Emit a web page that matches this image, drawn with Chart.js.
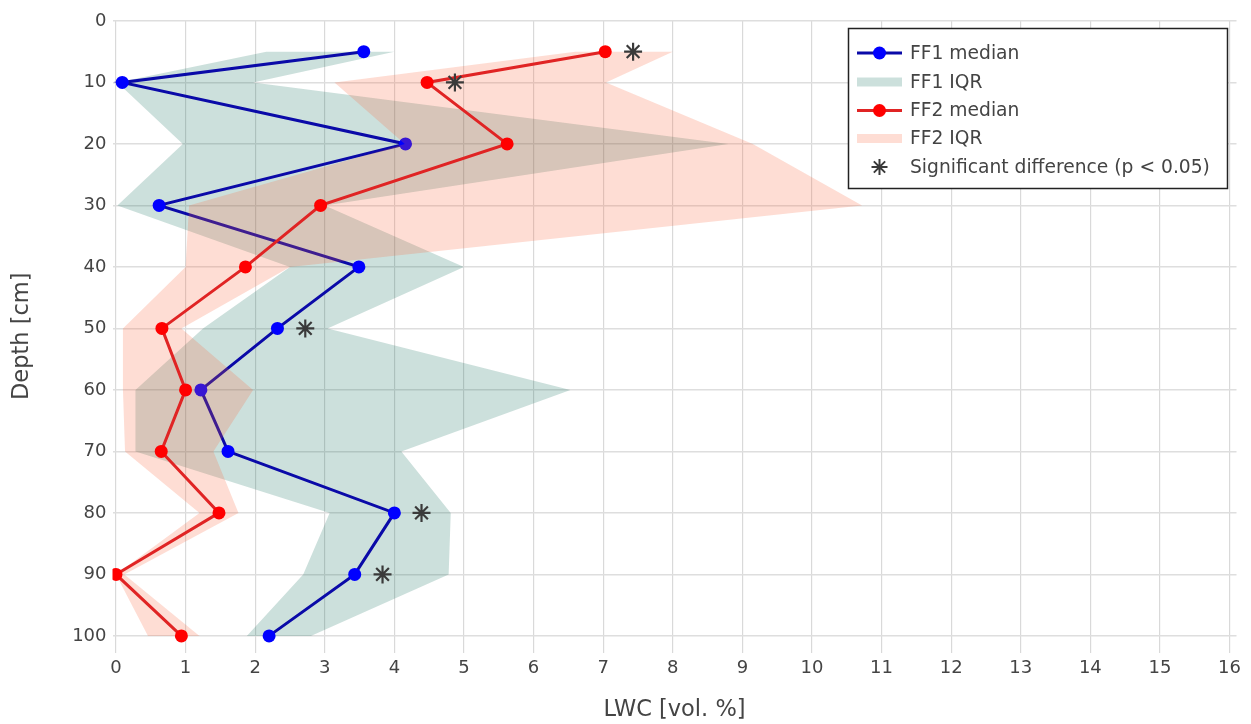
<!DOCTYPE html>
<html>
<head>
<meta charset="utf-8">
<script src="https://cdn.jsdelivr.net/npm/chart.js@4.4.1/dist/chart.umd.min.js"></script>
<style>
  html, body { margin: 0; padding: 0; background: #ffffff; }
  #wrap { width: 1251px; height: 724px; position: relative; }
  canvas { display: block; }
</style>
</head>
<body>
<div id="wrap"><canvas id="c" width="1251" height="724"></canvas></div>
<script>
// ---- data ----
const depths     = [5, 10, 20, 30, 40, 50, 60, 70, 80, 90, 100];
const ff1Median  = [3.56, 0.09, 4.16, 0.62, 3.49, 2.32, 1.22, 1.61, 4.00, 3.43, 2.20];
const ff1Q25     = [2.16, 0.02, 0.96, 0.02, 2.50, 1.25, 0.28, 0.28, 3.07, 2.69, 1.88];
const ff1Q75     = [4.00, 1.97, 8.80, 3.00, 5.00, 3.04, 6.53, 4.10, 4.81, 4.78, 2.80];
const ff2Median  = [7.03, 4.47, 5.62, 2.94, 1.86, 0.66, 1.00, 0.65, 1.48, 0.00, 0.94];
const ff2Q25     = [6.60, 3.14, 4.15, 1.05, 1.00, 0.10, 0.10, 0.13, 1.20, 0.00, 0.46];
const ff2Q75     = [8.00, 7.04, 9.15, 10.72, 2.50, 0.94, 1.97, 1.40, 1.76, 0.12, 1.20];
const sigDepths  = [5, 10, 50, 80, 90];
const sigX       = [7.43, 4.87, 2.72, 4.39, 3.83];
const xTicks     = [0,1,2,3,4,5,6,7,8,9,10,11,12,13,14,15,16];
const yTicks     = [0,10,20,30,40,50,60,70,80,90,100];
const legendLabels = ['FF1 median', 'FF1 IQR', 'FF2 median', 'FF2 IQR', 'Significant difference (p < 0.05)'];

// ---- styles ----
const FONT = "'DejaVu Sans', Verdana, sans-serif";
const BLUE_LINE = '#0a0aa8';
const BLUE_PT = '#0000ff';
const RED_LINE = '#e02424';
const RED_PT = '#ff0000';
const GREEN_FILL = 'rgba(0,100,80,0.2)';
const PINK_FILL = 'rgba(250,100,60,0.22)';
const STAR = '#3a3a3a';

function pts(xs, ys) { return xs.map((v, i) => ({x: v, y: ys[i]})); }
function band(lo, hi) {
  const up = hi.map((v, i) => ({x: v, y: depths[i]}));
  const down = lo.map((v, i) => ({x: v, y: depths[i]})).reverse();
  return up.concat(down);
}

const legendPlugin = {
  id: 'boxLegend',
  afterDraw(chart) {
    const ctx = chart.ctx;
    const bx = 848.5, by = 28.5, bw = 379, bh = 160;
    ctx.save();
    ctx.fillStyle = '#ffffff';
    ctx.fillRect(bx, by, bw, bh);
    ctx.lineWidth = 1.5;
    ctx.strokeStyle = '#222222';
    ctx.strokeRect(bx, by, bw, bh);
    const rows = [53, 82, 110.5, 138.5, 167];
    const x0 = 857, x1 = 902, xc = 879.5;
    ctx.font = '18.7px ' + FONT;
    ctx.textBaseline = 'middle';
    ctx.textAlign = 'left';
    rows.forEach((y, i) => {
      if (i === 0 || i === 2) {
        ctx.strokeStyle = i === 0 ? BLUE_LINE : RED_LINE;
        ctx.lineWidth = 3;
        ctx.beginPath(); ctx.moveTo(x0, y); ctx.lineTo(x1, y); ctx.stroke();
        ctx.fillStyle = i === 0 ? BLUE_PT : RED_PT;
        ctx.beginPath(); ctx.arc(xc, y, 6.5, 0, Math.PI * 2); ctx.fill();
      } else if (i === 1 || i === 3) {
        ctx.fillStyle = i === 1 ? GREEN_FILL : PINK_FILL;
        ctx.fillRect(x0, y - 4.5, x1 - x0, 9);
      } else {
        ctx.strokeStyle = STAR; ctx.lineWidth = 2;
        const r = 8;
        ctx.beginPath();
        for (let k = 0; k < 4; k++) {
          const a = k * Math.PI / 4;
          ctx.moveTo(xc - r * Math.cos(a), y - r * Math.sin(a));
          ctx.lineTo(xc + r * Math.cos(a), y + r * Math.sin(a));
        }
        ctx.stroke();
      }
      ctx.fillStyle = '#444444';
      ctx.fillText(legendLabels[i], 910, y + 1);
    });
    ctx.restore();
  }
};

const chart = new Chart(document.getElementById('c'), {
  type: 'scatter',
  data: {
    datasets: [
      { label: 'FF1 IQR', data: band(ff1Q25, ff1Q75), showLine: true, fill: 'shape',
        backgroundColor: GREEN_FILL, borderWidth: 0, borderColor: 'rgba(0,0,0,0)', pointRadius: 0, order: 5, tension: 0 },
      { label: 'FF1 median', data: pts(ff1Median, depths), showLine: true, borderColor: BLUE_LINE, borderWidth: 3,
        pointBackgroundColor: BLUE_PT, pointBorderColor: BLUE_PT, pointRadius: 6.5, pointBorderWidth: 0, order: 4 },
      { label: 'FF2 IQR', data: band(ff2Q25, ff2Q75), showLine: true, fill: 'shape',
        backgroundColor: PINK_FILL, borderWidth: 0, borderColor: 'rgba(0,0,0,0)', pointRadius: 0, order: 3, tension: 0 },
      { label: 'FF2 median', data: pts(ff2Median, depths), showLine: true, borderColor: RED_LINE, borderWidth: 3,
        pointBackgroundColor: RED_PT, pointBorderColor: RED_PT, pointRadius: 6.5, pointBorderWidth: 0, order: 2 },
      { label: 'Significant difference (p < 0.05)', data: pts(sigX, sigDepths), showLine: false,
        pointStyle: 'star', pointRadius: 9, pointBorderWidth: 2.2, borderColor: STAR, pointBorderColor: STAR, order: 1 }
    ]
  },
  options: {
    responsive: false,
    animation: false,
    devicePixelRatio: 1,
    layout: { padding: { left: 0, top: 20, right: 14.5, bottom: 0 } },
    plugins: { legend: { display: false }, tooltip: { enabled: false } },
    scales: {
      x: {
        type: 'linear', min: -0.05, max: 16.1,
        afterBuildTicks: s => { s.ticks = xTicks.map(v => ({value: v})); },
        afterFit: s => { s.height = 71.5; },
        grid: { color: '#d9d9d9', lineWidth: 1.2, drawTicks: false },
        border: { display: false },
        ticks: { color: '#444', font: { family: FONT, size: 18 }, padding: 5, maxRotation: 0, autoSkip: false },
        title: { display: true, text: 'LWC [vol. %]', color: '#444', font: { family: FONT, size: 22.5 }, padding: { top: 0, bottom: 0 } }
      },
      y: {
        type: 'linear', reverse: true, min: -0.15, max: 102.7,
        afterBuildTicks: s => { s.ticks = yTicks.map(v => ({value: v})); },
        afterFit: s => { s.width = 112.5; },
        grid: { color: '#dedede', lineWidth: 1.6, drawTicks: false },
        border: { display: false },
        ticks: { color: '#444', font: { family: FONT, size: 18 }, padding: 6, autoSkip: false },
        title: { display: true, text: 'Depth [cm]', color: '#444', font: { family: FONT, size: 22.5 }, padding: { top: 9, bottom: 0 } }
      }
    }
  },
  plugins: [legendPlugin]
});
</script>
</body>
</html>
